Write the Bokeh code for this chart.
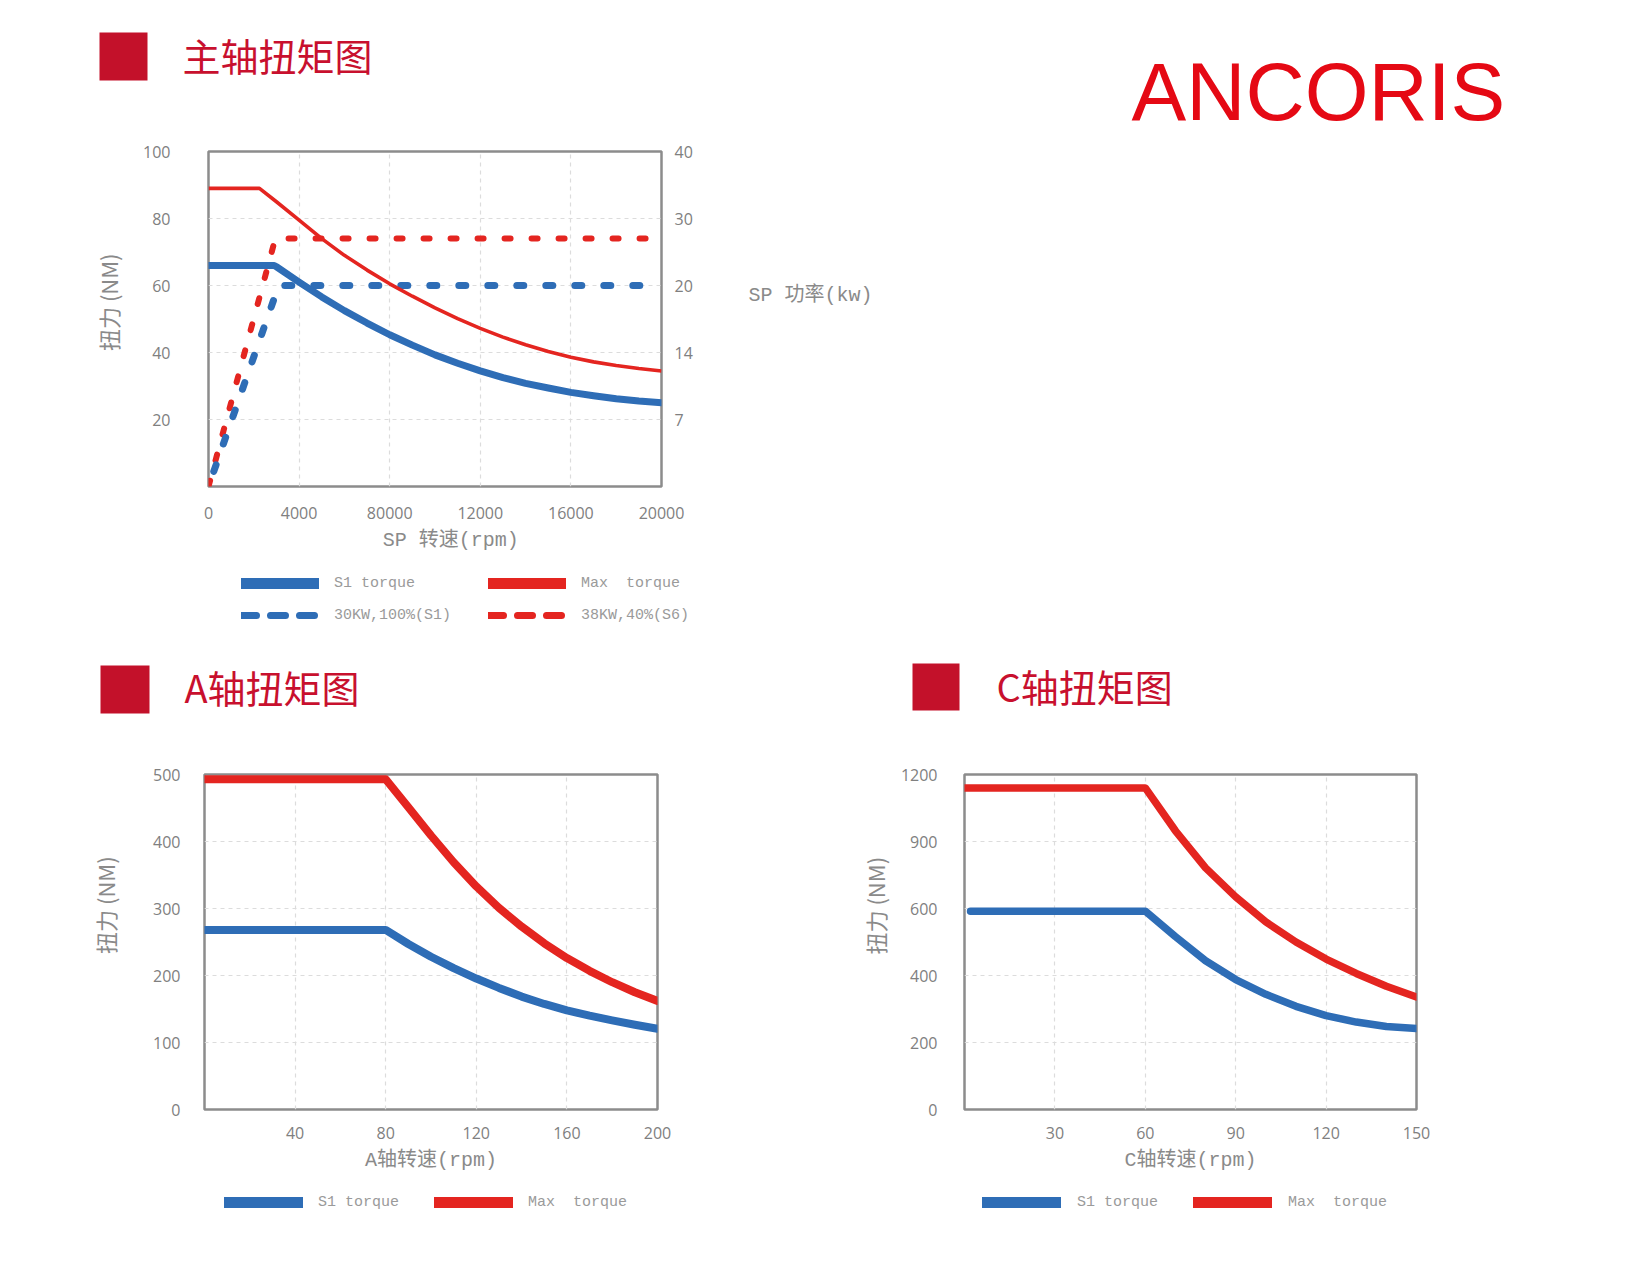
from bokeh.plotting import figure
from bokeh.layouts import row
from bokeh.models import (Range1d, FixedTicker, LinearAxis, Legend, LegendItem,
                          LinearInterpolator, ColumnDataSource)
from bokeh.transform import transform
from bokeh.core.properties import value
from bokeh.embed import file_html
from bokeh.resources import INLINE

NAN = float("nan")

# ---------------- data ----------------
# spindle (主轴): torque in NM vs speed in rpm
sp_speed_s1 = [0, 2900, 3000, 4000, 5000, 6000, 7000, 8000, 9000, 10000, 11000, 12000,
               13000, 14000, 15000, 16000, 17000, 18000, 19000, 20000]
sp_torque_s1 = [66, 66, 65.6, 61.0, 56.6, 52.5, 48.8, 45.3, 42.2, 39.3, 36.8, 34.5,
                32.5, 30.8, 29.4, 28.1, 27.1, 26.2, 25.5, 25.0]
sp_speed_max = [0, 2250, 3000, 4000, 5000, 6000, 7000, 8000, 9000, 10000, 11000, 12000,
                13000, 14000, 15000, 16000, 17000, 18000, 19000, 20000]
sp_torque_max = [89, 89, 85.0, 79.5, 74.0, 69.0, 64.6, 60.5, 56.8, 53.3, 50.1, 47.2,
                 44.6, 42.3, 40.3, 38.6, 37.2, 36.1, 35.2, 34.5]
# power in kW
sp_speed_30kw = [0, 3100, 19400]
sp_power_30kw = [0, 20, 20]
sp_speed_38kw = [0, 2950, 20000]
sp_power_38kw = [0, 27, 27]
sp_x_ticks = [0, 4000, 8000, 12000, 16000, 20000]
sp_x_labels = ["0", "4000", "80000", "12000", "16000", "20000"]
sp_y_ticks = [20, 40, 60, 80, 100]
sp_y_labels = ["20", "40", "60", "80", "100"]
sp_power_labels = ["7", "14", "20", "30", "40"]

# A axis
a_speed = [0, 80, 90, 100, 110, 120, 130, 140, 150, 160, 170, 180, 190, 200]
a_torque_max = [493, 493, 451, 409, 369, 333, 301, 273, 248, 226, 207, 190, 175, 162]
a_torque_s1 = [268, 268, 247, 228, 211, 195.5, 181.5, 168.5, 157.5, 148, 140, 133, 126.5, 120.5]
a_x_ticks = [40, 80, 120, 160, 200]
a_y_ticks = [0, 100, 200, 300, 400, 500]

# C axis
c_speed_max = [0, 60, 70, 80, 90, 100, 110, 120, 130, 140, 150]
c_torque_max = [1140, 1140, 948, 782, 652, 560, 500, 449, 406, 368, 336]
c_speed_s1 = [2, 60, 70, 80, 90, 100, 110, 120, 130, 140, 150]
c_torque_s1 = [592, 592, 516, 444, 388, 344, 308, 280, 261, 248, 242]
c_x_ticks = [30, 60, 90, 120, 150]
c_y_labels = [0, 200, 400, 600, 900, 1200]
c_y_pos = [0, 240, 480, 720, 960, 1200]

# ---------------- styles ----------------
BLUE = "#2E6DB6"
RED = "#E42520"
SQUARE = "#C3112A"
TITLE_RED = "#C8102E"
LOGO_RED = "#E50914"
TICK_FONT = "Open Sans"
CJK = "Noto Sans CJK SC"
MONO = "Liberation Mono, Noto Sans CJK SC"
GRAY = "#808080"
TITLE_GRAY = "#8a8a8a"
PAGE_W = 1622


def blank(width, height, left=0, top=0, xr=(0, 1), yr=(0, 1)):
    p = figure(width=width, height=height, x_range=Range1d(*xr), y_range=Range1d(*yr),
               output_backend="svg", toolbar_location=None, tools="", title=None,
               x_axis_location=None, y_axis_location=None, min_border=0,
               min_border_left=left, min_border_top=top)
    p.grid.visible = False
    p.outline_line_color = None
    return p


def header(height, squares, titles, logo=None):
    p = blank(PAGE_W, height, xr=(0, PAGE_W), yr=(height, 0))
    for (l, t, r, b) in squares:
        p.quad(left=[l], right=[r], top=[t], bottom=[b], fill_color=SQUARE, line_color=None)
    for (x, y, txt) in titles:
        p.text(x=[x], y=[y], text=[txt], text_font=value(CJK), text_font_size=value("38px"),
               text_color=TITLE_RED, text_baseline="middle", text_align="left")
    if logo:
        x, y, txt = logo
        p.text(x=[x], y=[y], text=[txt], text_font=value("Liberation Sans"),
               text_font_size=value("82px"), text_color=LOGO_RED,
               text_baseline="middle", text_align="left")
    return p


def chart(width, fw, fh, bl, bt, bb, xr, yr):
    p = figure(width=width, frame_width=fw, frame_height=fh, min_border_left=bl,
               min_border_right=width - bl - fw, min_border_top=bt, min_border_bottom=bb,
               x_range=Range1d(*xr), y_range=Range1d(*yr),
               output_backend="svg", toolbar_location=None, tools="", title=None)
    p.background_fill_color = "white"
    p.border_fill_color = "white"
    p.outline_line_color = "#8c8c8c"
    p.outline_line_width = 2.5
    p.grid.grid_line_color = "#dcdcdc"
    p.grid.grid_line_dash = "4 4"
    p.grid.grid_line_width = 1.2
    return p


def style_axis(ax, standoff):
    ax.axis_line_color = None
    ax.major_tick_line_color = None
    ax.minor_tick_line_color = None
    ax.major_tick_out = 0
    ax.major_tick_in = 0
    ax.major_label_standoff = standoff
    ax.major_label_text_font = TICK_FONT
    ax.major_label_text_font_size = "16px"
    ax.major_label_text_color = GRAY
    ax.axis_label_text_font_style = "normal"
    ax.axis_label_text_color = TITLE_GRAY


def x_title(ax, text, standoff):
    ax.axis_label = text
    ax.axis_label_text_font = MONO
    ax.axis_label_text_font_size = "20px"
    ax.axis_label_standoff = standoff


def title_axis(p, side, at, text, standoff, font, size, orientation="horizontal"):
    """An outer axis that only carries the axis title, placed at a given level."""
    ax = LinearAxis(ticker=FixedTicker(ticks=[at]), major_label_overrides={at: text})
    ax.axis_line_color = None
    ax.major_tick_line_color = None
    ax.minor_tick_line_color = None
    ax.major_tick_out = 0
    ax.major_tick_in = 0
    ax.major_label_standoff = standoff
    ax.major_label_orientation = orientation
    ax.major_label_text_font = font
    ax.major_label_text_font_size = size
    ax.major_label_text_color = TITLE_GRAY
    p.add_layout(ax, side)
    return ax


def legend_fig(width, height, left, top, entries, glyph_w, standoff, label_w, spacing):
    f = blank(width, height, left=left, top=top)
    items = []
    for label, color, lw, dash in entries:
        # legend key only: a single NaN point keeps the renderer invisible
        r = f.line([NAN], [NAN], line_color=color, line_width=lw, line_cap="round",
                   line_dash=dash)
        items.append(LegendItem(label=label, renderers=[r]))
    lg = Legend(items=items, location="top_left", orientation="horizontal", ncols=2,
                glyph_width=glyph_w, glyph_height=20, label_height=20, label_width=label_w,
                spacing=spacing, label_standoff=standoff, padding=0, margin=0,
                border_line_color=None, background_fill_alpha=0,
                label_text_font=MONO, label_text_font_size="15px", label_text_color="#9a9a9a")
    f.add_layout(lg, "center")
    return f


# ---------------- header 1 ----------------
h1 = header(140, [(99, 32, 147, 80)], [(182, 54, "主轴扭矩图")], logo=(1131, 91, "ANCORIS"))

# ---------------- spindle chart ----------------
p1 = chart(PAGE_W, 453, 335, 208, 11, 73, (0, 20000), (0, 100))
p1.xaxis.ticker = FixedTicker(ticks=sp_x_ticks)
p1.xaxis.major_label_overrides = {t: s for t, s in zip(sp_x_ticks, sp_x_labels)}
p1.yaxis.ticker = FixedTicker(ticks=sp_y_ticks)
p1.yaxis.major_label_overrides = {t: s for t, s in zip(sp_y_ticks, sp_y_labels)}
p1.xgrid.ticker = FixedTicker(ticks=sp_x_ticks[1:-1])
p1.ygrid.ticker = FixedTicker(ticks=sp_y_ticks[:-1])
style_axis(p1.xaxis[0], 20)
style_axis(p1.yaxis[0], 38)

rax = LinearAxis(ticker=FixedTicker(ticks=sp_y_ticks),
                 major_label_overrides={t: s for t, s in zip(sp_y_ticks, sp_power_labels)})
style_axis(rax, 13)
p1.add_layout(rax, "right")
title_axis(p1, "left", 55, "扭力 (NM)", 17, CJK, "22px", "vertical")
title_axis(p1, "right", 57, "SP 功率(kw)", 53, MONO, "20px")
title_axis(p1, "below", 10700, "SP 转速(rpm)", 7, MONO, "20px")

kw_interp = LinearInterpolator(x=[0] + [float(s) for s in sp_power_labels], y=[0] + sp_y_ticks)
src30 = ColumnDataSource(dict(rpm=sp_speed_30kw, kw=sp_power_30kw))
src38 = ColumnDataSource(dict(rpm=sp_speed_38kw, kw=sp_power_38kw))
p1.line(x="rpm", y=transform("kw", kw_interp), source=src38, line_color=RED, line_width=6,
        line_dash="6 21", line_cap="round")
p1.line(x="rpm", y=transform("kw", kw_interp), source=src30, line_color=BLUE, line_width=7,
        line_dash="7 22", line_dash_offset=13, line_cap="round")
p1.line(sp_speed_max, sp_torque_max, line_color=RED, line_width=3.6, line_join="round")
p1.line(sp_speed_s1, sp_torque_s1, line_color=BLUE, line_width=7, line_join="round",
        line_cap="round")

l1 = legend_fig(PAGE_W, 80, 241, 14,
                [("S1 torque", BLUE, 11, "solid"), ("Max  torque", RED, 11, "solid"),
                 ("30KW,100%(S1)", BLUE, 7, "15 14"), ("38KW,40%(S6)", RED, 7, "15 14")],
                78, 15, 142, 12)

# ---------------- header 2 ----------------
h2 = header(108, [(100, 26, 149, 74), (912, 24, 959, 71)],
            [(184, 47, "A轴扭矩图"), (996, 46, "C轴扭矩图")])

# ---------------- A chart ----------------
pa = chart(852, 453, 335, 204, 27, 68, (0, 200), (0, 500))
pa.xaxis.ticker = FixedTicker(ticks=a_x_ticks)
pa.yaxis.ticker = FixedTicker(ticks=a_y_ticks)
style_axis(pa.xaxis[0], 17)
style_axis(pa.yaxis[0], 24)
x_title(pa.xaxis[0], "A轴转速(rpm)", 7)
title_axis(pa, "left", 305, "扭力 (NM)", 29, CJK, "22px", "vertical")
pa.line(a_speed, a_torque_s1, line_color=BLUE, line_width=8, line_join="round", line_cap="round")
pa.line(a_speed, a_torque_max, line_color=RED, line_width=8, line_join="round", line_cap="round")

# ---------------- C chart ----------------
pc = chart(770, 452, 335, 112, 27, 68, (0, 150), (0, 1200))
pc.xaxis.ticker = FixedTicker(ticks=c_x_ticks)
pc.yaxis.ticker = FixedTicker(ticks=c_y_pos)
pc.yaxis.major_label_overrides = {p: str(l) for p, l in zip(c_y_pos, c_y_labels)}
style_axis(pc.xaxis[0], 17)
style_axis(pc.yaxis[0], 27)
x_title(pc.xaxis[0], "C轴转速(rpm)", 7)
title_axis(pc, "left", 730, "扭力 (NM)", 6, CJK, "22px", "vertical")
c_interp = LinearInterpolator(x=c_y_labels, y=c_y_pos)
srcc_s1 = ColumnDataSource(dict(rpm=c_speed_s1, nm=c_torque_s1))
srcc_max = ColumnDataSource(dict(rpm=c_speed_max, nm=c_torque_max))
pc.line(x="rpm", y=transform("nm", c_interp), source=srcc_s1, line_color=BLUE, line_width=7.5,
        line_join="round", line_cap="round")
pc.line(x="rpm", y=transform("nm", c_interp), source=srcc_max, line_color=RED, line_width=7.5,
        line_join="round", line_cap="round")

la = legend_fig(852, 60, 224, 15,
                [("S1 torque", BLUE, 11, "solid"), ("Max  torque", RED, 11, "solid")],
                79, 15, 104, 12)
lc = legend_fig(770, 60, 130, 15,
                [("S1 torque", BLUE, 11, "solid"), ("Max  torque", RED, 11, "solid")],
                79, 16, 104, 12)

roots = [h1, p1, l1, h2, row(pa, pc), row(la, lc)]
open("out.html", "w").write(file_html(roots, INLINE))
